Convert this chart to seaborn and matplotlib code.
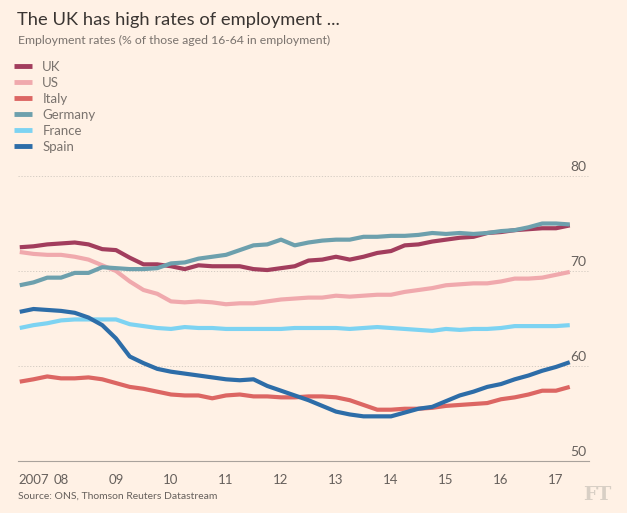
import matplotlib
matplotlib.use("Agg")
import matplotlib.pyplot as plt
import numpy as np
import pandas as pd
import seaborn as sns

# ---- data (quarterly, 2007Q2 - 2017Q2) ----
quarters = pd.period_range("2007Q2", "2017Q2", freq="Q")
uk = [72.5, 72.6, 72.8, 72.9, 73.0, 72.8, 72.3, 72.2, 71.4, 70.7, 70.7, 70.5, 70.2, 70.6,
      70.5, 70.5, 70.5, 70.2, 70.1, 70.3, 70.5, 71.1, 71.2, 71.5, 71.2, 71.5, 71.9, 72.1,
      72.7, 72.8, 73.1, 73.3, 73.5, 73.6, 74.0, 74.1, 74.3, 74.4, 74.5, 74.5, 74.8]
us = [72.0, 71.8, 71.7, 71.7, 71.5, 71.2, 70.6, 70.0, 68.9, 68.0, 67.6, 66.8, 66.7, 66.8,
      66.7, 66.5, 66.6, 66.6, 66.8, 67.0, 67.1, 67.2, 67.2, 67.4, 67.3, 67.4, 67.5, 67.5,
      67.8, 68.0, 68.2, 68.5, 68.6, 68.7, 68.7, 68.9, 69.2, 69.2, 69.3, 69.6, 69.9]
italy = [58.35, 58.6, 58.9, 58.7, 58.7, 58.8, 58.6, 58.2, 57.8, 57.6, 57.3, 57.0, 56.9, 56.9,
         56.6, 56.9, 57.0, 56.8, 56.8, 56.7, 56.7, 56.8, 56.8, 56.7, 56.4, 55.9, 55.4, 55.4,
         55.5, 55.5, 55.6, 55.8, 55.9, 56.0, 56.1, 56.5, 56.7, 57.0, 57.4, 57.4, 57.8]
germany = [68.5, 68.8, 69.3, 69.3, 69.8, 69.8, 70.4, 70.3, 70.2, 70.2, 70.3, 70.8, 70.9, 71.3,
           71.5, 71.7, 72.2, 72.7, 72.8, 73.3, 72.7, 73.0, 73.2, 73.3, 73.3, 73.6, 73.6, 73.7,
           73.7, 73.8, 74.0, 73.9, 74.0, 73.9, 74.0, 74.2, 74.3, 74.6, 75.0, 75.0, 74.9]
france = [64.0, 64.3, 64.5, 64.8, 64.9, 64.9, 64.9, 64.9, 64.4, 64.2, 64.0, 63.9, 64.1, 64.0,
          64.0, 63.9, 63.9, 63.9, 63.9, 63.9, 64.0, 64.0, 64.0, 64.0, 63.9, 64.0, 64.1, 64.0,
          63.9, 63.8, 63.7, 63.9, 63.8, 63.9, 63.9, 64.0, 64.2, 64.2, 64.2, 64.2, 64.3]
spain = [65.7, 66.0, 65.9, 65.8, 65.6, 65.1, 64.3, 62.9, 61.0, 60.3, 59.7, 59.4, 59.2, 59.0,
         58.8, 58.6, 58.5, 58.6, 57.9, 57.4, 56.9, 56.4, 55.8, 55.2, 54.9, 54.7, 54.7, 54.7,
         55.1, 55.5, 55.7, 56.3, 56.9, 57.3, 57.8, 58.1, 58.6, 59.0, 59.5, 59.9, 60.4]

countries = ["UK", "US", "Italy", "Germany", "France", "Spain"]
colors = ["#A23D5D", "#F0A9AD", "#DC6663", "#6DA0AD", "#7DD3F2", "#2D6DA8"]
xtick_years = [2007, 2008, 2009, 2010, 2011, 2012, 2013, 2014, 2015, 2016, 2017]
xtick_labels = ["2007", "08", "09", "10", "11", "12", "13", "14", "15", "16", "17"]
yticks = [50, 60, 70, 80]

series = {"UK": uk, "US": us, "Italy": italy, "Germany": germany, "France": france, "Spain": spain}
t = [q.year + (q.quarter - 1) / 4 for q in quarters]
df = pd.concat([pd.DataFrame({"t": t, "value": v, "country": c}) for c, v in series.items()],
               ignore_index=True)

BG = "#FFF1E5"
TXT = "#66605C"
LEGTXT = "#7A736E"
FONT = ["Lato", "DejaVu Sans"]

sns.set_style("white")
plt.rcParams["font.family"] = FONT

fig = plt.figure(figsize=(6.27, 5.13), dpi=100, facecolor=BG)
W, H = 627, 513
x0, x1 = 18, 589
ybot, ytop = 461, 176
ax = fig.add_axes([x0 / W, (H - ybot) / H, (x1 - x0) / W, (ybot - ytop) / H])
ax.set_facecolor(BG)

px_per_year = 55.0
x_2008 = 61
xmin = 2008 + (x0 - x_2008) / px_per_year
xmax = 2008 + (x1 - x_2008) / px_per_year

sns.lineplot(data=df, x="t", y="value", hue="country", hue_order=countries,
             palette=colors, linewidth=3.0, ax=ax, legend=True, solid_capstyle="butt")

ax.set_xlim(xmin, xmax)
ax.set_ylim(50, 80)
for s in ["top", "right", "left"]:
    ax.spines[s].set_visible(False)
ax.spines["bottom"].set_color("#A9A29C")
ax.spines["bottom"].set_linewidth(0.8)

for yv in yticks[1:]:
    ax.axhline(yv, color="#CFC7BE", lw=0.6, ls=(0, (1.5, 2)), zorder=0, clip_on=False)

ax.set_yticks([])
ax.set_ylabel("")
ax.set_xlabel("")
ax.set_xticks([xmin] + xtick_years[1:])
ax.set_xticklabels(xtick_labels, fontsize=9.5, color=TXT)
ax.tick_params(axis="x", direction="out", length=4, width=0.8, color="#A9A29C", pad=5)
ax.get_xticklabels()[0].set_horizontalalignment("left")

for yv in yticks:
    ax.annotate(str(yv), xy=(1.0, yv), xycoords=("axes fraction", "data"),
                xytext=(-2, 2), textcoords="offset points", ha="right", va="bottom",
                fontsize=10, color=TXT)

handles, labels = ax.get_legend_handles_labels()
leg = ax.legend(handles, labels, loc="upper left", bbox_to_anchor=(14 / W, 1 - 61 / H),
                bbox_transform=fig.transFigure, frameon=False, fontsize=9.5,
                handlelength=1.4, handletextpad=0.75, labelspacing=0.3, borderaxespad=0,
                borderpad=0)
for txt in leg.get_texts():
    txt.set_color(LEGTXT)
for ln in leg.get_lines():
    ln.set_linewidth(3.5)

fig.text(17 / W, 1 - 20 / H, "The UK has high rates of employment ...", fontsize=13.2,
         color="#3A3532", va="center", ha="left")
fig.text(18 / W, 1 - 40 / H, "Employment rates (% of those aged 16-64 in employment)",
         fontsize=8.8, color=LEGTXT, va="center", ha="left")
fig.text(18 / W, 1 - 496 / H, "Source: ONS, Thomson Reuters Datastream", fontsize=7.5,
         color=TXT, va="center", ha="left")
fig.text(612 / W, 1 - 495 / H, "FT", fontsize=14, color="#D8CFC5", va="center", ha="right",
         family=["DejaVu Serif"], fontweight="bold")

fig.savefig("out.png", dpi=100, facecolor=BG)
